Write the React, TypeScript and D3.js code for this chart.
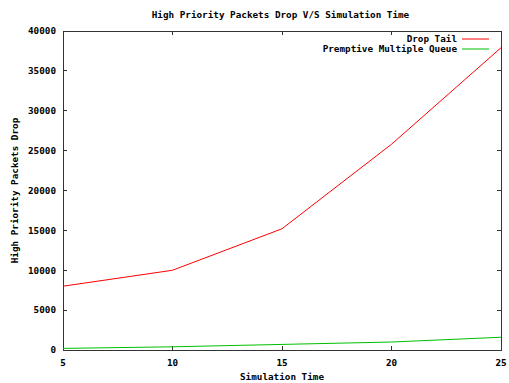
import React from "react";
import * as d3 from "d3";

const times = [5, 10, 15, 20, 25];
const dropTail = [8000, 10000, 15200, 25800, 37900];
const pmq = [200, 400, 700, 1000, 1600];
const xTicks = [5, 10, 15, 20, 25];
const yTicks = [0, 5000, 10000, 15000, 20000, 25000, 30000, 35000, 40000];
const seriesNames = ["Drop Tail", "Premptive Multiple Queue"];
const seriesColors = ["#ff0000", "#00c000"];

const W = 509, H = 383;
const L = 63, R = 501, T = 31, B = 350;
const font = "'DejaVu Sans Mono', 'Liberation Mono', monospace";

export default function App() {
  const x = d3.scaleLinear().domain([5, 25]).range([L, R]);
  const y = d3.scaleLinear().domain([0, 40000]).range([B, T]);
  const line = d3.line<number>().x((_, i) => x(times[i])).y((d) => y(d));
  const series = [dropTail, pmq];
  const tl = 4;
  const ts: React.CSSProperties = { fontFamily: font, fontSize: 9.3, fontWeight: "bold" };
  return (
    <svg width={W} height={H} style={{ position: "absolute", left: 0, top: 0, background: "#fff" }}>
      <rect x={L} y={T} width={R - L} height={B - T} fill="none" stroke="#333" strokeWidth={1} shapeRendering="crispEdges" />
      {yTicks.map((t) => (
        <g key={"y" + t}>
          <line x1={L} x2={L + tl} y1={y(t)} y2={y(t)} stroke="#333" shapeRendering="crispEdges" />
          <line x1={R} x2={R - tl} y1={y(t)} y2={y(t)} stroke="#333" shapeRendering="crispEdges" />
          <text x={56} y={y(t)} dy="0.35em" textAnchor="end" style={ts}>{t}</text>
        </g>
      ))}
      {xTicks.map((t) => (
        <g key={"x" + t}>
          <line x1={x(t)} x2={x(t)} y1={B} y2={B - tl} stroke="#333" shapeRendering="crispEdges" />
          <line x1={x(t)} x2={x(t)} y1={T} y2={T + tl} stroke="#333" shapeRendering="crispEdges" />
          <text x={x(t)} y={363} dy="0.35em" textAnchor="middle" style={ts}>{t}</text>
        </g>
      ))}
      {series.map((s, i) => (
        <path key={i} d={line(s) || ""} fill="none" stroke={seriesColors[i]} strokeWidth={1} />
      ))}
      <text x={W / 2 + 26} y={15} dy="0.35em" textAnchor="middle" style={ts}>High Priority Packets Drop V/S Simulation Time</text>
      <text x={(L + R) / 2} y={377} dy="0.35em" textAnchor="middle" style={ts}>Simulation Time</text>
      <text transform={`translate(15,${(T + B) / 2}) rotate(-90)`} dy="0.35em" textAnchor="middle" style={ts}>High Priority Packets Drop</text>
      {seriesNames.map((n, i) => (
        <g key={n}>
          <text x={457} y={39 + i * 10} dy="0.35em" textAnchor="end" style={ts}>{n}</text>
          <line x1={462} x2={489} y1={39 + i * 10} y2={39 + i * 10} stroke={seriesColors[i]} strokeWidth={1} />
        </g>
      ))}
    </svg>
  );
}
